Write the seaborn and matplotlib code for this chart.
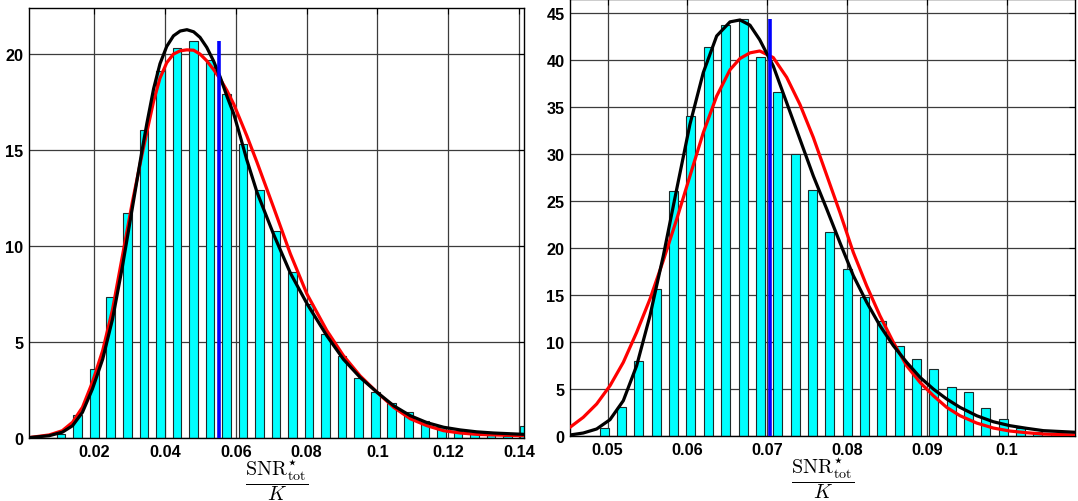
import numpy as np
import matplotlib
matplotlib.use("Agg")
import matplotlib.pyplot as plt
import seaborn as sns

# ---------------- left panel: histogram of SNR*_tot / K ----------------
left_bin_first, left_bin_last, left_bin_count = 0.01068, 0.1414, 29
left_density = [0.21, 1.2, 3.6, 7.33, 11.72, 16.06, 19.13, 20.3, 20.7, 19.7,
                17.9, 15.3, 12.9, 10.8, 8.66, 6.98, 5.42, 4.25, 3.1, 2.38,
                1.8, 1.34, 0.9, 0.59, 0.38, 0.24, 0.16, 0.12, 0.61]

# fitted densities (black and red) sampled along the axis
left_fit_x = [0.0016, 0.0073, 0.0110, 0.0139, 0.0167, 0.0195, 0.0224, 0.0252,
              0.0280, 0.0308, 0.0335, 0.0349, 0.0368, 0.0386, 0.0405, 0.0424,
              0.0443, 0.0462, 0.0481, 0.0499, 0.0518, 0.0537, 0.0556, 0.0575,
              0.0594, 0.0612, 0.0631, 0.0660, 0.0707, 0.0754, 0.0801, 0.0857,
              0.0904, 0.0951, 0.0999, 0.1046, 0.1093, 0.1140, 0.1187, 0.1234,
              0.1281, 0.1328, 0.1414]
left_fit_black = [0.02, 0.12, 0.30, 0.64, 1.34, 2.55, 4.1, 6.2,
                  8.95, 12.0, 14.95, 16.4, 18.2, 19.5, 20.4, 20.95,
                  21.2, 21.27, 21.16, 20.87, 20.35, 19.65, 18.8, 17.8,
                  16.9, 15.75, 14.5, 12.8, 10.6, 8.6, 7.0, 5.33,
                  4.1, 3.16, 2.38, 1.68, 1.16, 0.80, 0.56, 0.42,
                  0.32, 0.26, 0.19]
left_fit_red = [0.02, 0.16, 0.38, 0.82, 1.6, 2.9, 4.55, 6.7,
                9.5, 12.3, 14.75, 15.95, 17.55, 18.75, 19.55, 20.0,
                20.17, 20.22, 20.2, 20.0, 19.65, 19.2, 18.7, 18.1,
                17.4, 16.6, 15.75, 14.36, 12.0, 9.6, 7.5, 5.6,
                4.29, 3.24, 2.38, 1.6, 1.0, 0.64, 0.38, 0.26,
                0.19, 0.16, 0.12]

left_mean, left_mean_height = 0.0552, 20.7

left_xticks = [0.02, 0.04, 0.06, 0.08, 0.10, 0.12, 0.14]
left_xticklabels = ["0.02", "0.04", "0.06", "0.08", "0.1", "0.12", "0.14"]
left_yticks = [0, 5, 10, 15, 20]

# ---------------- right panel ----------------
right_bin_first, right_bin_last, right_bin_count = 0.04957, 0.10827, 28
right_density = [0.85, 3.08, 8.04, 15.67, 26.1, 34.1, 41.45, 43.76, 44.4, 40.4,
                 36.6, 30.0, 26.2, 21.7, 17.8, 14.8, 12.3, 9.64, 8.22, 7.16,
                 5.28, 4.75, 3.0, 1.84, 0.88, 0.45, 0.2, 0.15]

right_fit_x = [0.04528, 0.04694, 0.04862, 0.05029, 0.05196, 0.05363, 0.0553,
               0.05697, 0.05865, 0.06031, 0.06198, 0.06366, 0.06533, 0.06658,
               0.06783, 0.06905, 0.07075, 0.07243, 0.0741, 0.07577, 0.07744,
               0.07911, 0.08078, 0.08246, 0.08412, 0.0858, 0.08747, 0.08914,
               0.09081, 0.09248, 0.09415, 0.09624, 0.09832, 0.1004, 0.1025,
               0.1046, 0.10856]
right_fit_black = [0.14, 0.35, 0.78, 1.77, 3.79, 7.51, 12.83,
                   19.2, 26.3, 33.2, 38.7, 42.6, 44.1, 44.3,
                   43.75, 42.2, 39.4, 35.5, 31.6, 27.7, 24.2,
                   20.6, 17.1, 14.26, 11.77, 9.64, 7.87, 6.28,
                   5.03, 3.97, 3.08, 2.19, 1.55, 1.13, 0.85,
                   0.6, 0.43]
right_fit_red = [0.96, 2.02, 3.44, 5.38, 7.87, 11.06, 14.6,
                 18.7, 23.1, 27.7, 32.3, 36.2, 39.0, 40.2,
                 40.8, 41.0, 40.3, 38.2, 35.3, 31.8, 27.8,
                 23.8, 19.57, 16.0, 12.83, 10.0, 7.5, 5.74,
                 4.32, 3.08, 2.19, 1.41, 0.88, 0.56, 0.38,
                 0.24, 0.14]

right_mean, right_mean_height = 0.07034, 44.4

right_xticks = [0.05, 0.06, 0.07, 0.08, 0.09, 0.10]
right_xticklabels = ["0.05", "0.06", "0.07", "0.08", "0.09", "0.1"]
right_yticks = [0, 5, 10, 15, 20, 25, 30, 35, 40, 45]

XLABEL = r"$\dfrac{\mathrm{SNR}^{\mathsf{\star}}_{\mathrm{tot}}}{K}$"

sns.set_theme(style="white")
plt.rcParams["font.family"] = ["Liberation Sans", "DejaVu Sans"]
plt.rcParams["font.weight"] = "bold"
plt.rcParams["mathtext.fontset"] = "custom"
plt.rcParams["mathtext.rm"] = "cmr10"
plt.rcParams["mathtext.it"] = "cmmi10"
plt.rcParams["mathtext.bf"] = "cmb10"
plt.rcParams["mathtext.sf"] = "DejaVu Sans"
plt.rcParams["mathtext.fallback"] = "stix"

fig = plt.figure(figsize=(10.78, 5.02), dpi=100)
ax_l = fig.add_axes([29 / 1078, 63 / 502, 495 / 1078, 430 / 502])
ax_r = fig.add_axes([570 / 1078, 64.7 / 502, 505 / 1078, 437 / 502])

panels = [
    (ax_l, left_bin_first, left_bin_last, left_bin_count, left_density,
     left_fit_x, left_fit_black, left_fit_red, left_mean, left_mean_height,
     (0.0016, 0.1414), (0, 22.4), left_xticks, left_xticklabels, left_yticks),
    (ax_r, right_bin_first, right_bin_last, right_bin_count, right_density,
     right_fit_x, right_fit_black, right_fit_red, right_mean, right_mean_height,
     (0.04528, 0.10856), (0, 46.5), right_xticks, right_xticklabels, right_yticks),
]

for (ax, b0, b1, nb, dens, fx, fblack, fred, mu, mu_h,
     xlim, ylim, xt, xtl, yt) in panels:
    centres = np.linspace(b0, b1, nb)
    sns.barplot(x=centres, y=dens, native_scale=True, width=0.52,
                color="#00ffff", saturation=1, edgecolor="#1c2b2b",
                linewidth=0.8, errorbar=None, ax=ax, zorder=2)
    sns.lineplot(x=fx, y=fblack, color="black", linewidth=2.3,
                 estimator=None, ax=ax, zorder=4)
    sns.lineplot(x=fx, y=fred, color="#ff0000", linewidth=2.3,
                 estimator=None, ax=ax, zorder=3)
    ax.plot([mu, mu], [0, mu_h], color="#0000ff", linewidth=2.6,
            solid_capstyle="butt", zorder=5)

    ax.set_xlim(*xlim)
    ax.set_ylim(*ylim)
    ax.set_xticks(xt)
    ax.set_xticklabels(xtl)
    ax.set_yticks(yt)
    ax.set_yticklabels([str(v) for v in yt])
    ax.grid(True, color="#3c3c3c", linewidth=0.9, linestyle="-")
    ax.set_axisbelow(True)
    ax.tick_params(direction="in", length=4, width=0.8, top=True, right=True,
                   labelsize=11.7, pad=4, colors="black")
    for lab in ax.get_xticklabels() + ax.get_yticklabels():
        lab.set_fontweight("bold")
    for sp in ax.spines.values():
        sp.set_visible(True)
        sp.set_color("black")
        sp.set_linewidth(1.0)
    ax.set_xlabel(XLABEL, fontsize=14.5, labelpad=-1, color="black")
    ax.set_ylabel("")

fig.savefig("out.png", dpi=100)
